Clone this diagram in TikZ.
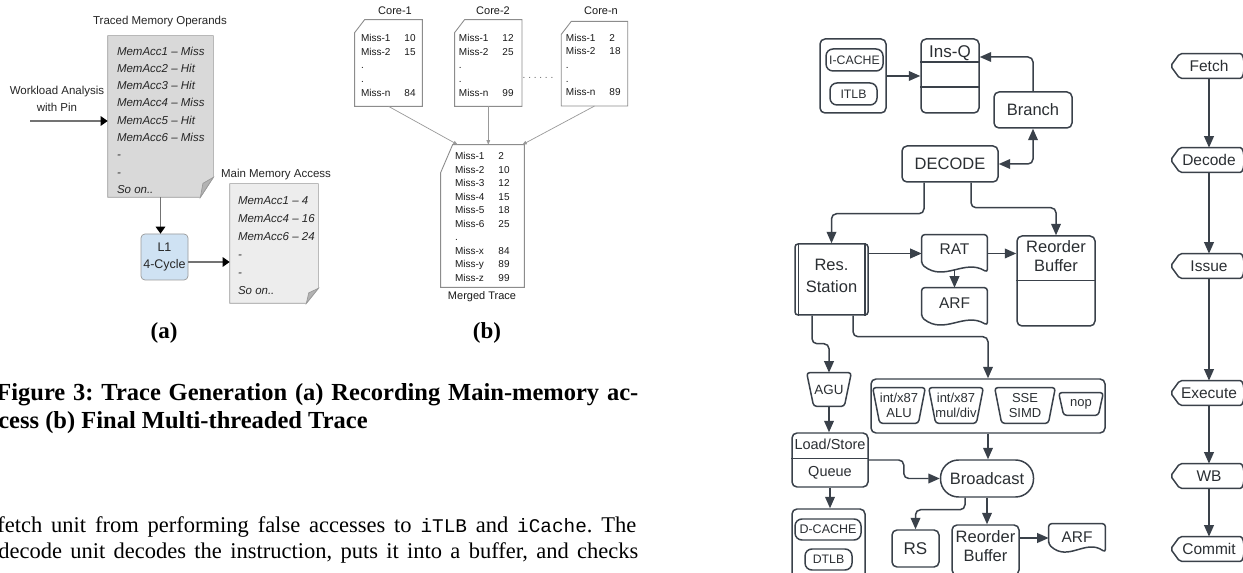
\documentclass[tikz,border=0pt]{standalone}
\usepackage{fontspec}
\setmainfont{Liberation Serif}
\newfontfamily\sansf{Liberation Sans}
\newfontfamily\codef[Scale=0.86]{Liberation Mono}
\usetikzlibrary{arrows.meta}
\frenchspacing

\newlength\pxu
\setlength\pxu{0.02cm}
\newcommand\pxfont[2]{\fontsize{#1\pxu}{#2\pxu}\selectfont}
\newcommand\tbox[4]{\parbox[c][#2\pxu][t]{#1\pxu}{\centering\vspace*{#3\pxu}\strut#4}}
\newcommand\lbox[5]{\parbox[c][#2\pxu][t]{#1\pxu}{\leftskip=#3\pxu\vspace*{#4\pxu}\strut#5}}
\newcommand\missrow[2]{\makebox[43.5\pxu][l]{#1}#2}
\newcommand\acc[2]{MemAcc#1~\textendash~#2}

\definecolor{lucidc}{HTML}{3A414A}
\definecolor{lucidt}{HTML}{2B2F33}
\definecolor{docedge}{HTML}{9A9A9A}
\definecolor{opsfill}{HTML}{D9D9D9}
\definecolor{memfill}{HTML}{EDEDED}
\definecolor{foldfill}{HTML}{B3B3B3}
\definecolor{l1fill}{HTML}{CFE2F3}
\definecolor{traceedge}{HTML}{8C8C8C}

\pgfdeclarelayer{bg}
\pgfsetlayers{bg,main}

\newcommand\foldpage[4]{%
  \begin{pgfonlayer}{bg}
  \draw[draw=docedge, fill=#2] (#1.north west) -- (#1.north east) -- ([yshift=#4\pxu]#1.south east) -- ([xshift=-#3\pxu]#1.south east) -- (#1.south west) -- cycle;
  \draw[draw=docedge, fill=foldfill] ([yshift=#4\pxu]#1.south east) -- ([xshift=-#3\pxu]#1.south east) -- ([xshift=-0.8*#3\pxu, yshift=0.7*#4\pxu]#1.south east) -- cycle;
  \end{pgfonlayer}}
\newcommand\cutpage[3]{%
  \draw[draw=traceedge, line width=0.5pt] ([yshift=-#3\pxu]#1.north west) -- ([xshift=#2\pxu]#1.north west) -- (#1.north east) -- (#1.south east) -- (#1.south west) -- cycle;}
\newcommand\wavedoc[2]{%
  \draw[draw=lucidc, line width=0.85pt, rounded corners=3\pxu] ([yshift=8\pxu]#1.south west) -- (#1.north west) -- (#1.north east) -- (#1.south east) .. controls ([xshift=-0.35*#2\pxu, yshift=14\pxu]#1.south east) and ([xshift=0.35*#2\pxu, yshift=-10\pxu]#1.south west) .. ([yshift=8\pxu]#1.south west) -- cycle;}
\newcommand\manop[2]{%
  \draw[draw=lucidc, line width=0.85pt, rounded corners=3\pxu] (#1.north west) -- (#1.north east) -- ([xshift=-#2\pxu]#1.south east) -- ([xshift=#2\pxu]#1.south west) -- cycle;}
\newcommand\dispshape[1]{%
  \draw[draw=lucidc, line width=0.85pt, rounded corners=2\pxu] ([xshift=-9\pxu]#1.west) -- (#1.north west) -- (#1.north east) .. controls ([xshift=7\pxu]#1.north east) and ([xshift=7\pxu]#1.south east) .. (#1.south east) -- (#1.south west) -- cycle;}

\begin{document}
\begin{tikzpicture}[x=0.02cm, y=-0.02cm,
  sz/.style 2 args={minimum width=#1\pxu, minimum height=#2\pxu},
  txt/.style={inner sep=0, text=black!85, font=\sansf\pxfont{11.5}{17}},
  docnode/.style={inner sep=0, text=black!85, font=\sansf\itshape\pxfont{11.5}{17.3}},
  blackarr/.style={draw=black!55, line width=0.7pt, -{Triangle[length=4pt, width=5.5pt, color=black]}},
  l1box/.style={draw=docedge, fill=l1fill, rounded corners=4\pxu, inner sep=0, align=center, text=black!85, font=\sansf\pxfont{12.5}{17}},
  trnode/.style={inner sep=0, text=black!90, font=\sansf\pxfont{10}{13.6}},
  tarr/.style={draw=black!40, line width=0.4pt, -{Triangle[length=2.5pt, width=2pt]}},
  capt/.style={inner sep=0, anchor=base west, font=\bfseries\pxfont{24.5}{28}},
  body/.style={inner sep=0, anchor=base west, font=\pxfont{22.5}{27}},
  lucid/.style={draw=lucidc, line width=0.85pt},
  lnode/.style={lucid, rounded corners=5\pxu, inner sep=0, text=lucidt, align=center, font=\sansf\pxfont{16.5}{19}},
  bare/.style={inner sep=0, text=lucidt, align=center, font=\sansf\pxfont{16.5}{19}},
  pill/.style={lnode, rounded corners=7\pxu, font=\sansf\pxfont{12.3}{14}},
  unit/.style={bare, font=\sansf\pxfont{13}{15}},
  stage/.style={bare, font=\sansf\pxfont{15.5}{18}},
  larr/.style={lucid, rounded corners=5\pxu, -{Triangle[length=6.5pt, width=5.5pt]}},
  larrr/.style={lucid, rounded corners=5\pxu, {Triangle[length=6.5pt, width=5.5pt]}-{Triangle[length=6.5pt, width=5.5pt]}}]

\useasboundingbox (0,0) rectangle (1243,573);
\begin{pgfonlayer}{bg}\fill[white] (0,0) rectangle (1243,573);\end{pgfonlayer}

% (a) recording main-memory access
\node[txt] (opstitle) at (160,22) {Traced Memory Operands};
\node[docnode] (ops) at (160.5,116.5) {\lbox{105}{161}{9}{6.9}{\acc{1}{Miss}\\\acc{2}{Hit}\\\acc{3}{Hit}\\\acc{4}{Miss}\\\acc{5}{Hit}\\\acc{6}{Miss}\\-\\-\\So~on..}};
\foldpage{ops}{opsfill}{13}{20}
\node[txt, align=center] (wl) at (57,98.5) {Workload Analysis\\with Pin};
\coordinate (wlin) at (30,121);
\draw[blackarr] (wlin) -- (ops.west |- wlin);

\node[l1box, sz={47}{46}] (l1) at (164.5,257) {L1\\4-Cycle};
\draw[blackarr] (ops.south) -- (ops.south |- l1.north);

\node[txt] (memtitle) at (276,175) {Main Memory Access};
\node[docnode, font=\sansf\itshape\pxfont{11.5}{18}] (mem) at (274,243.5) {\lbox{88}{119}{8}{7.5}{\acc{1}{4}\\\acc{4}{16}\\\acc{6}{24}\\-\\-\\So~on..}};
\foldpage{mem}{memfill}{12}{15}
\coordinate (l1out) at ([yshift=-5\pxu]l1.east);
\draw[blackarr] (l1out) -- (mem.west |- l1out);

% (b) merged trace
\node[trnode, font=\sansf\pxfont{11}{13}] (c1lbl) at (395,11) {Core-1};
\node[trnode, font=\sansf\pxfont{11}{13}] (c2lbl) at (493,11) {Core-2};
\node[trnode, font=\sansf\pxfont{11}{13}] (cnlbl) at (601,11) {Core-n};
\node[trnode] (core1) at (388.5,63) {\lbox{67}{86}{6}{12.1}{\missrow{Miss-1}{10}\\\missrow{Miss-2}{15}\\.\\.\\\missrow{Miss-n}{84}}};
\node[trnode] (core2) at (488.3,63) {\lbox{66.7}{86}{4}{12.1}{\missrow{Miss-1}{12}\\\missrow{Miss-2}{25}\\.\\.\\\missrow{Miss-n}{99}}};
\node[trnode] (coren) at (594.5,63.7) {\lbox{65.7}{84}{4.3}{10.1}{\missrow{Miss-1}{2}\\\missrow{Miss-2}{18}\\.\\.\\\missrow{Miss-n}{89}}};
\cutpage{core1}{10}{13}
\cutpage{core2}{10}{13}
\cutpage{coren}{10}{13}
\node[trnode, text=black!60] (dots) at (538,78) {. . . . . .};

\node[trnode, font=\sansf\pxfont{10}{13.5}] (merged) at (482.5,216) {\lbox{83}{142}{14}{5.1}{\missrow{Miss-1}{2}\\\missrow{Miss-2}{10}\\\missrow{Miss-3}{12}\\\missrow{Miss-4}{15}\\\missrow{Miss-5}{18}\\\missrow{Miss-6}{25}\\.\\\missrow{Miss-x}{84}\\\missrow{Miss-y}{89}\\\missrow{Miss-z}{99}}};
\cutpage{merged}{12}{28}
\node[trnode, font=\sansf\pxfont{11}{13}] (mtitle) at (482,297) {Merged Trace};
\draw[tarr] (core1.south) -- ([xshift=17\pxu]merged.north west);
\draw[tarr] (core2.south) -- (core2.south |- merged.north);
\draw[tarr] (coren.south) -- ([xshift=-2\pxu]merged.north east);

% captions and running text
\node[inner sep=0, font=\bfseries\pxfont{23}{26}] (suba) at (164,333) {(a)};
\node[inner sep=0, font=\bfseries\pxfont{23}{26}] (subb) at (487,333) {(b)};
\node[capt] (cap1) at (-4,401) {\hbox to 642\pxu{Figure 3: Trace Generation (a) Recording Main-memory ac-}};
\node[capt] (cap2) at (-2,429) {cess (b) Final Multi-threaded Trace};
\node[body] (body1) at (-3,532) {\hbox to 639\pxu{fetch unit from performing false accesses to {\codef iTLB} and {\codef iCache}. The}};
\node[body] (body2) at (-2,558) {\hbox to 640\pxu{decode unit decodes the instruction, puts it into a buffer, and checks}};

% pipeline blocks
\node[lnode, sz={66}{74}] (icgroup) at (853,76) {};
\node[pill, sz={57}{22}] (icache) at (854.5,60) {I-CACHE};
\node[pill, sz={47}{22}] (itlb) at (853.5,94) {ITLB};
\node[lnode, font=\sansf\pxfont{17}{20}] (insq) at (950,76) {\tbox{58}{74}{4.1}{Ins-Q}};
\draw[lucid] ([yshift=-24\pxu]insq.north west) -- ([yshift=-24\pxu]insq.north east);
\draw[lucid] ([yshift=-49\pxu]insq.north west) -- ([yshift=-49\pxu]insq.north east);
\node[lnode, sz={78}{36}] (branch) at (1033,110) {Branch};
\node[lnode, sz={96}{36}] (decode) at (950,164) {DECODE};

\node[lnode, rounded corners=3\pxu, font=\sansf\pxfont{16.5}{22}] (resst) at (831.5,279.5) {\tbox{73}{71}{11.5}{Res.\\Station}};
\draw[lucid] ([xshift=4\pxu]resst.north west) -- ([xshift=4\pxu]resst.south west);
\draw[lucid] ([xshift=-4\pxu]resst.north east) -- ([xshift=-4\pxu]resst.south east);
\node[bare, font=\sansf\pxfont{15.5}{18}] (rat) at (954.5,253.5) {\tbox{65}{37}{7}{RAT}};
\wavedoc{rat}{65}
\node[bare, font=\sansf\pxfont{15.5}{18}] (arf1) at (954.5,306.5) {\tbox{65}{37}{8}{ARF}};
\wavedoc{arf1}{65}
\node[lnode] (rob1) at (1056,281) {\tbox{78}{90}{3.6}{Reorder\\Buffer}};
\draw[lucid] ([yshift=-45\pxu]rob1.north west) -- ([yshift=-45\pxu]rob1.north east);

\node[bare, sz={44}{33}, font=\sansf\pxfont{13.4}{15}] (agu) at (829,389.5) {AGU};
\manop{agu}{7}
\node[lnode, sz={234}{54}] (execgrp) at (988,406) {};
\node[unit, sz={52}{35}] (alu) at (899,405.5) {int/x87\\ALU};
\manop{alu}{7}
\node[unit, sz={54}{35}] (muldiv) at (956,405.5) {int/x87\\mul/div};
\manop{muldiv}{7}
\node[unit, sz={60}{35}] (simd) at (1025,405.5) {SSE\\SIMD};
\manop{simd}{7}
\node[unit, sz={44}{22}] (nop) at (1081,404) {nop};
\manop{nop}{5}
\node[lnode, sz={93}{37}, rounded corners=18\pxu] (bcast) at (987,478.5) {Broadcast};
\node[lnode, font=\sansf\pxfont{14.5}{27}] (lsq) at (830,460) {\tbox{76}{54}{-2.7}{Load/Store\\Queue}};
\draw[lucid] ([yshift=-26\pxu]lsq.north west) -- ([yshift=-26\pxu]lsq.north east);
\node[lnode, sz={73}{72}] (dgroup) at (828.5,545) {};
\node[pill, sz={66}{21}, font=\sansf\pxfont{12.5}{14}] (dcache) at (828,529.5) {D-CACHE};
\node[pill, sz={47}{21}] (dtlb) at (828.5,559.5) {DTLB};
\node[lnode, sz={47}{37}, font=\sansf\pxfont{17}{19}] (rs) at (915.5,548.5) {RS};
\node[lnode] (rob2) at (985.5,550) {\tbox{67}{50}{4.6}{Reorder\\Buffer}};
\node[bare, font=\sansf\pxfont{15.5}{18}] (arf2) at (1077,538) {\tbox{56}{28}{6}{ARF}};
\wavedoc{arf2}{56}

\draw[larr] (icgroup.east) -- (insq.west);
\draw[larr] (branch.north) |- ([yshift=19\pxu]insq.east);
\draw[larrr] (decode.east) -| (branch.south);
\draw[larr] ([xshift=-26\pxu]decode.south) -- ++(0,31) -| (resst.north);
\draw[larr] ([xshift=21\pxu]decode.south) -- ++(0,25) -| (rob1.north);
\draw[larr] (resst.east |- rat.west) -- (rat.west);
\draw[larr] (rat.east) -- (rob1.west |- rat.east);
\draw[larr] ([yshift=2.5\pxu]rat.south) -- (arf1.north);
\draw[larr] ([xshift=-19.5\pxu]resst.south) -- ++(0,28) -| (agu.north);
\draw[larr] ([xshift=21.5\pxu]resst.south) -- ++(0,21) -| (execgrp.north);
\draw[larr] (agu.south) -- (agu.south |- lsq.north);
\draw[larr] (execgrp.south) -- (execgrp.south |- bcast.north);
\draw[larr] (lsq.east) -- ++(35,0) |- (bcast.west);
\draw[larr] (lsq.south) -- (lsq.south |- dgroup.north);
\draw[larr] ([xshift=-22\pxu]bcast.south) -- ++(0,12) -| (rs.north);
\draw[larr] (bcast.south) -- (bcast.south |- rob2.north);
\draw[larr] (rob2.east |- arf2.west) -- (arf2.west);

% pipeline stages
\foreach \nm/\lbl/\yy in {fetch/Fetch/66, sdecode/Decode/160, issue/Issue/266, execute/Execute/393, wb/WB/476, commit/Commit/549} {
  \node[stage, sz={58}{24}] (\nm) at (1209,\yy) {\lbl};
  \dispshape{\nm}
}
\foreach \a/\b in {fetch/sdecode, sdecode/issue, issue/execute, execute/wb, wb/commit}
  \draw[larr] (\a.south) -- (\b.north);

\end{tikzpicture}
\end{document}
